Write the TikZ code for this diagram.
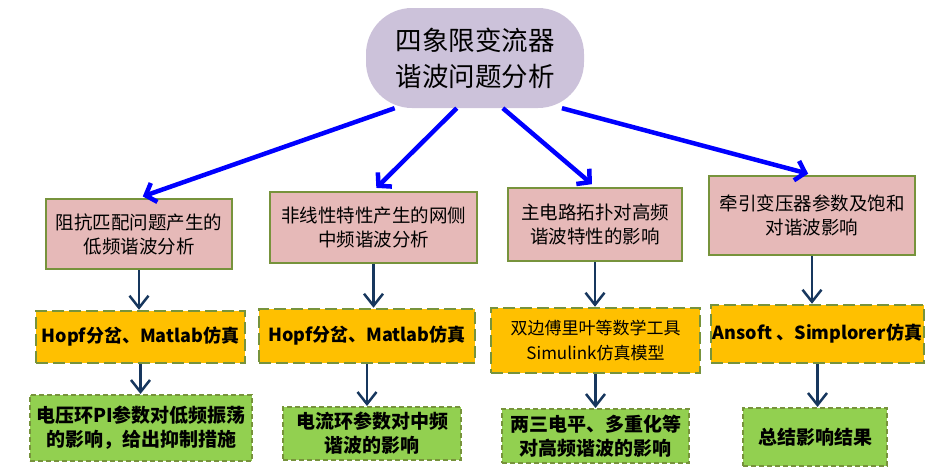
\documentclass[tikz,border=0pt]{standalone}
\usepackage{fontspec}
\newfontfamily\cjk{Noto Sans CJK SC}
\definecolor{rootpurple}{RGB}{204,194,218}
\definecolor{boxpink}{RGB}{230,185,184}
\definecolor{boxolive}{RGB}{119,147,60}
\definecolor{boxorange}{RGB}{255,192,0}
\definecolor{boxgreen}{RGB}{146,208,80}
\definecolor{arrnavy}{RGB}{23,55,94}
\definecolor{arrblue}{RGB}{0,0,255}
\usetikzlibrary{arrows.meta,positioning,calc}

\begin{document}
\begin{tikzpicture}[x=1pt, y=-1pt,
        rootbox/.style={rectangle, rounded corners=46pt, fill=rootpurple, draw=none,
                        minimum width=218pt, minimum height=100pt, align=center,
                        font=\cjk\fontsize{26.5}{36}\selectfont},
        topicbox/.style={rectangle, fill=boxpink, draw=boxolive, line width=2.5pt,
                        inner sep=2pt, align=center,
                        font=\cjk\fontsize{18.5}{24}\selectfont},
        toolbox/.style={rectangle, fill=boxorange, draw=boxolive, line width=2.5pt,
                        dash pattern=on 12pt off 5pt, inner sep=2pt, align=center,
                        font=\cjk\bfseries\fontsize{18}{25}\selectfont},
        resultbox/.style={rectangle, fill=boxgreen, draw=boxolive, line width=2pt,
                        dash pattern=on 5pt off 3pt, inner sep=2pt, align=center,
                        font=\cjk\bfseries\fontsize{19}{24}\selectfont},
        barr/.style={-{Straight Barb[length=9pt, width=20pt]}, line width=4.5pt,
                     arrblue, shorten >=4pt},
        narr/.style={-{Straight Barb[length=12pt, width=19pt]}, line width=2.5pt,
                     arrnavy}
      ]
        \useasboundingbox (0,0) rectangle (949,471);

        \node[rootbox] (root) at (475,58) {四象限变流器\\谐波问题分析};

        \node[topicbox, minimum width=186pt, minimum height=70pt] (lowfreq)  at (139,234)   {阻抗匹配问题产生的\\低频谐波分析};
        \node[topicbox, minimum width=207pt, minimum height=71pt] (midfreq)  at (373.5,227.5) {非线性特性产生的网侧\\中频谐波分析};
        \node[topicbox, minimum width=174pt, minimum height=73pt] (highfreq) at (595,224.5) {主电路拓扑对高频\\谐波特性的影响};
        \node[topicbox, minimum width=206pt, minimum height=79pt] (transf)   at (812,215.5) {牵引变压器参数及饱和\\对谐波影响};

        \node[toolbox, minimum width=209pt, minimum height=52pt] (hopfa)   at (140.5,337) {Hopf分岔、Matlab仿真};
        \node[toolbox, minimum width=216pt, minimum height=54pt] (hopfb)   at (367,336)   {Hopf分岔、Matlab仿真};
        \node[toolbox, minimum width=209pt, minimum height=65pt,
              font=\cjk\fontsize{17}{25}\selectfont]               (fourier) at (595.5,340.5) {双边傅里叶等数学工具\\Simulink仿真模型};
        \node[toolbox, minimum width=209pt, minimum height=58pt] (ansoft)  at (817.5,334) {Ansoft 、Simplorer仿真};

        \node[resultbox, minimum width=222pt, minimum height=66pt] (vloop)      at (141,428)   {电压环PI参数对低频振荡\\的影响，给出抑制措施};
        \node[resultbox, minimum width=178pt, minimum height=53pt] (cloop)      at (372,433.5) {电流环参数对中频\\谐波的影响};
        \node[resultbox, minimum width=187pt, minimum height=54pt] (multilevel) at (595.5,436) {两三电平、多重化等\\对高频谐波的影响};
        \node[resultbox, minimum width=144pt, minimum height=58pt] (summary)    at (815,437)   {总结影响结果};

        \draw[barr] (root.212) -- (lowfreq.north);
        \draw[barr] (root.250) -- (midfreq.north);
        \draw[barr] (root.299) -- (highfreq.north);
        \draw[barr] (root.330) -- (transf.north);

        \draw[narr] (lowfreq.south)  -- (lowfreq.south |- hopfa.north);
        \draw[narr] (midfreq.south)  -- (midfreq.south |- hopfb.north);
        \draw[narr] (highfreq.south) -- (highfreq.south |- fourier.north);
        \draw[narr] (transf.south)   -- (transf.south |- ansoft.north);

        \draw[narr] (hopfa.south)   -- (hopfa.south |- vloop.north);
        \draw[narr] (hopfb.south)   -- (hopfb.south |- cloop.north);
        \draw[narr] (fourier.south) -- (fourier.south |- multilevel.north);
        \draw[narr] (ansoft.south)  -- (ansoft.south |- summary.north);
      \end{tikzpicture}
\end{document}
